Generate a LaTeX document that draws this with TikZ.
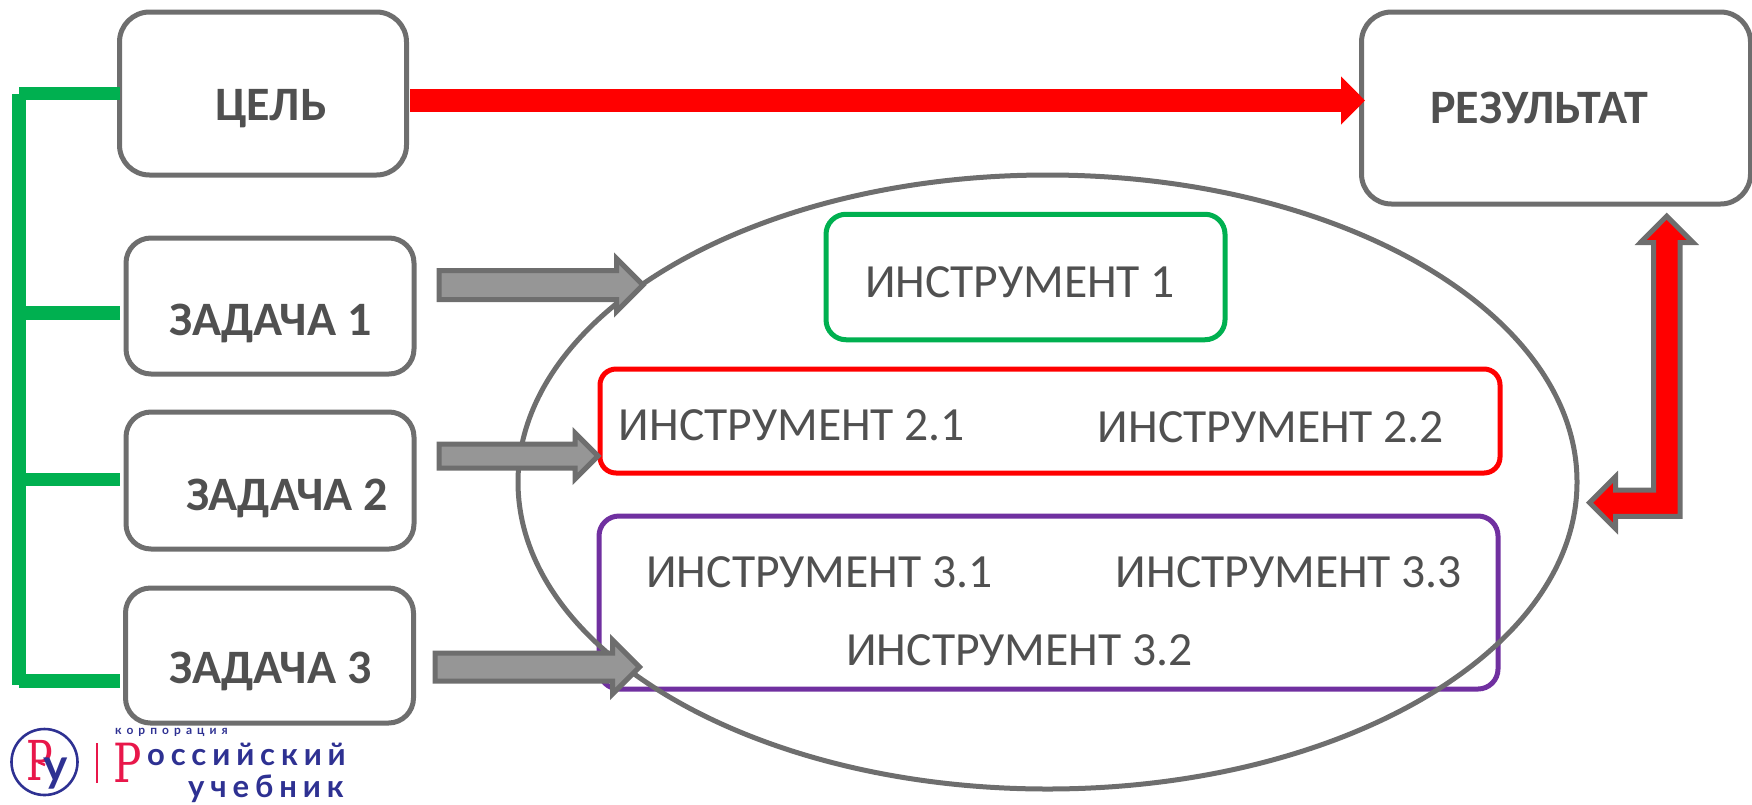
\documentclass[tikz,border=0pt]{standalone}
\usepackage{fontspec}
\usetikzlibrary{arrows.meta,shapes.geometric}
\setmainfont{Carlito}
\newfontfamily\logofont[LetterSpace=19]{Lato}
\newfontfamily\logosmall[LetterSpace=42]{Lato}
\newfontfamily\logoserif{DejaVu Serif}
\definecolor{edgegray}{HTML}{6E6E6E}
\definecolor{fillgray}{HTML}{969696}
\definecolor{textgray}{HTML}{505050}
\definecolor{mygreen}{HTML}{00B050}
\definecolor{mypurple}{HTML}{7030A0}
\definecolor{logored}{HTML}{E8174A}
\definecolor{logoblue}{HTML}{2E3192}
\tikzset{
  box/.style={draw=edgegray,line width=5pt,rounded corners=30pt,inner sep=0pt,outer sep=0pt},
  tool/.style={line width=5pt,rounded corners=20pt,inner sep=0pt,outer sep=0pt},
  strong/.style={font=\fontsize{48}{48}\selectfont\bfseries,text=textgray,inner sep=0pt,anchor=base},
  plain/.style={font=\fontsize{47.6}{48}\selectfont,text=textgray,inner sep=0pt,anchor=base},
  bus/.style={draw=mygreen,line width=13.5pt},
  grayarrow/.style={draw=edgegray,fill=fillgray,line width=5pt,miter limit=10},
  redarrow/.style={draw=edgegray,fill=red,line width=5pt,miter limit=10},
  logotext/.style={text=logoblue,inner sep=0pt,anchor=base west},
}
\begin{document}
\begin{tikzpicture}[x=1pt,y=-1pt]
\useasboundingbox (0,0) rectangle (1752,804);
% tool boxes and ellipse
\node[tool,draw=mypurple,minimum width=899pt,minimum height=173pt] (t3) at (1048.5,602.5) {};
\node[draw=edgegray,line width=5pt,ellipse,minimum width=1059pt,minimum height=614pt,inner sep=0pt,outer sep=0pt] (pool) at (1047.5,482) {};
\node[tool,draw=mygreen,minimum width=399pt,minimum height=125.5pt] (t1) at (1025.5,277) {};
\node[tool,draw=red,rounded corners=16pt,minimum width=900pt,minimum height=104pt] (t2) at (1050,421) {};
% main boxes
\node[box,minimum width=287pt,minimum height=163pt] (goal) at (263,93.5) {};
\node[box,minimum width=389pt,minimum height=192pt] (res) at (1556,108) {};
\node[box,minimum width=288pt,minimum height=136pt,rounded corners=25pt] (z1) at (270,306) {};
\node[box,minimum width=288pt,minimum height=137pt,rounded corners=25pt] (z2) at (270,480.5) {};
\node[box,minimum width=288pt,minimum height=135pt,rounded corners=25pt] (z3) at (269.5,655.5) {};
% labels
\node[strong] (lg) at (271,120) {ЦЕЛЬ};
\node[strong] (lr) at (1539,123.5) {РЕЗУЛЬТАТ};
\node[strong] (l1) at (270.5,335) {ЗАДАЧА 1};
\node[strong] (l2) at (287,510) {ЗАДАЧА 2};
\node[strong] (l3) at (270.5,683) {ЗАДАЧА 3};
\node[plain] (i1) at (1020,297) {ИНСТРУМЕНТ 1};
\node[plain] (i21) at (792,440) {ИНСТРУМЕНТ 2.1};
\node[plain] (i22) at (1271,442) {ИНСТРУМЕНТ 2.2};
\node[plain] (i31) at (819.5,587) {ИНСТРУМЕНТ 3.1};
\node[plain] (i33) at (1289,587) {ИНСТРУМЕНТ 3.3};
\node[plain] (i32) at (1019.5,665) {ИНСТРУМЕНТ 3.2};
% green bus
\coordinate (bustop) at (19,93.5);
\coordinate (bus1) at (19,313);
\coordinate (bus2) at (19,479.5);
\coordinate (bus3) at (19,681);
\draw[bus] (goal.west) -- (bustop);
\draw[bus] (goal.west |- bus1) -- (bus1);
\draw[bus] (goal.west |- bus2) -- (bus2);
\draw[bus] (goal.west |- bus3) -- (bus3);
\draw[bus] (bustop) -- (19,685);
% red arrow goal -> result
\coordinate (ra) at (410,100.5);
\coordinate (rb) at (1365,100.5);
\draw[red,line width=23.5pt,-{Triangle[length=24pt,width=47pt]}] (ra) -- (rb);
% gray block arrows
\coordinate (a1) at (439,285);
\coordinate (a2) at (439,456);
\coordinate (a3) at (435,667);
\draw[grayarrow] (a1) ++(0,-14.5) -- ++(177.5,0) -- ++(0,-12) -- ++(26.5,26.5) -- ++(-26.5,26.5) -- ++(0,-12) -- ++(-177.5,0) -- cycle;
\draw[grayarrow] (a2) ++(0,-12) -- ++(136,0) -- ++(0,-11) -- ++(23,23) -- ++(-23,23) -- ++(0,-11) -- ++(-136,0) -- cycle;
\draw[grayarrow] (a3) ++(0,-14) -- ++(177.5,0) -- ++(0,-13) -- ++(27,27) -- ++(-27,27) -- ++(0,-13) -- ++(-177.5,0) -- cycle;
% red double arrow
\coordinate (d1) at (1666.7,216.2);
\draw[redarrow] (d1) -- ++(26.3,26.3) -- ++(-13,0) -- ++(0,273.8) -- ++(-64.5,0) -- ++(0,12.4) -- ++(-26,-26) -- ++(26,-26) -- ++(0,13.3) -- ++(38.2,0) -- ++(0,-247.5) -- ++(-13.2,0) -- cycle;
% logo
\node[draw=logoblue,line width=2.6pt,circle,minimum size=66pt,inner sep=0pt] (lc) at (44.5,762) {};
\node[inner sep=0pt,anchor=base,text=logored,xscale=.72,font=\logoserif\fontsize{55}{55}\selectfont] (lp) at (40,780) {Р};
\node[inner sep=0pt,anchor=base,text=logoblue,font=\logofont\fontsize{46}{46}\selectfont\bfseries] (ly) at (56,781) {у};
\draw[logored,line width=2.5pt] (38,762) -- (45,765);
\draw[logored,line width=2pt] (97,743) -- (97,783);
\node[inner sep=0pt,anchor=base,text=logored,xscale=.78,font=\logoserif\fontsize{54}{54}\selectfont] (lr2) at (128,782) {Р};
\node[logotext,font=\logofont\fontsize{31}{31}\selectfont\bfseries] (lt1) at (147,765) {оссийский};
\node[logotext,font=\logofont\fontsize{31}{31}\selectfont\bfseries] (lt2) at (188,797) {учебник};
\node[logotext,font=\logosmall\fontsize{12}{12}\selectfont\bfseries] (lt3) at (115,734) {корпорация};
\end{tikzpicture}
\end{document}
